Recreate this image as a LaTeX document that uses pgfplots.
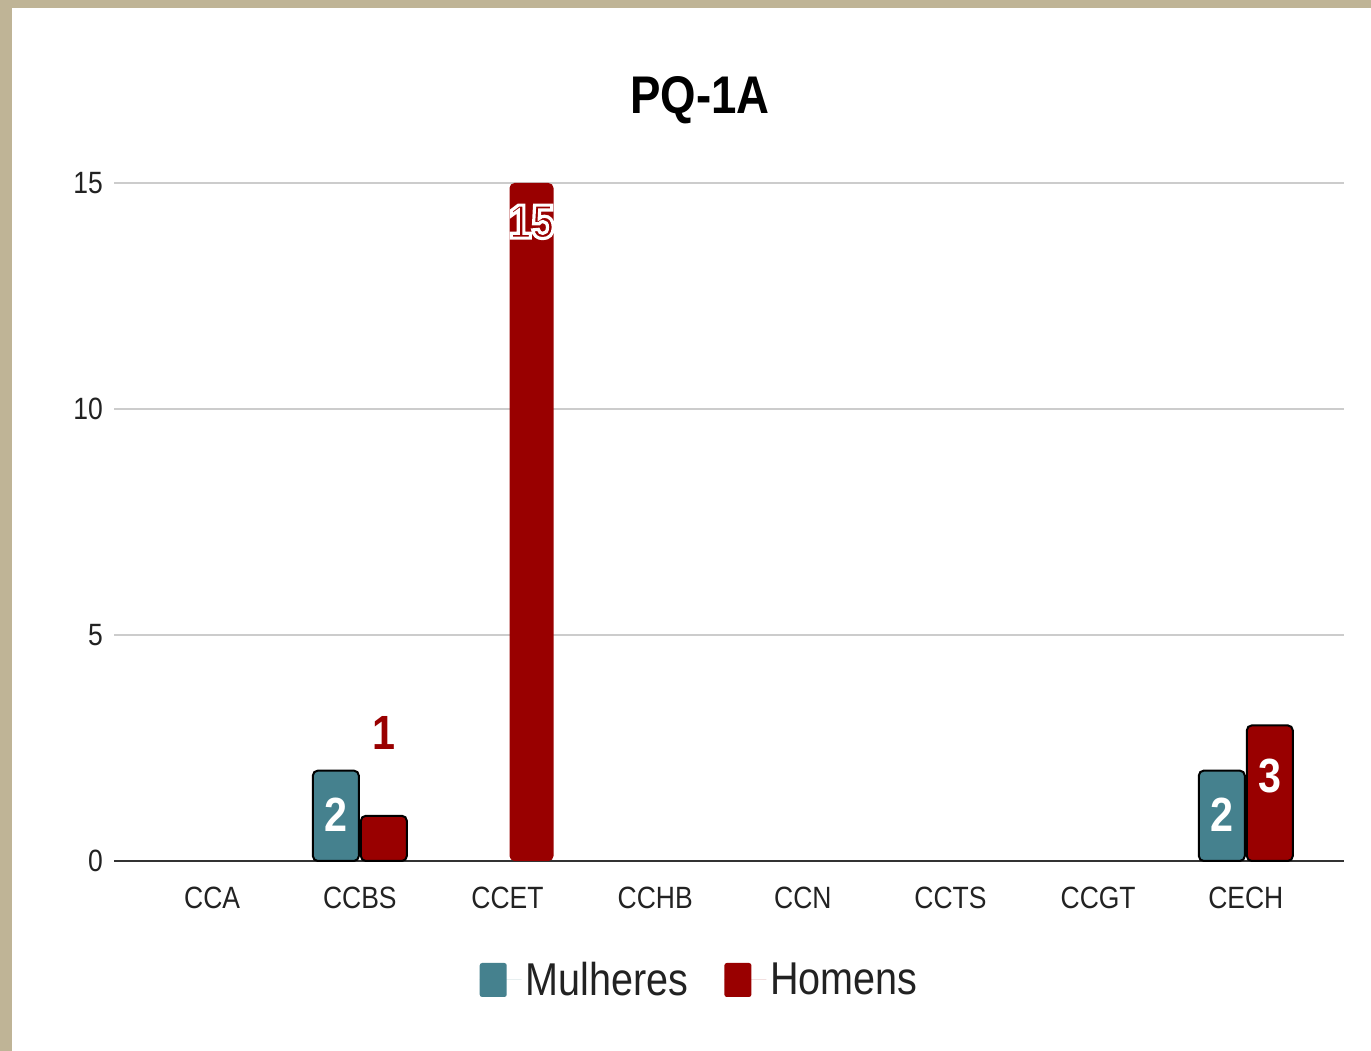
\documentclass[border=0pt]{standalone}
\usepackage{pgfplots}
\pgfplotsset{compat=1.18}
\usepackage{fontspec}
\setmainfont{Liberation Sans}[FakeStretch=0.86]
\definecolor{mulh}{HTML}{45818E}
\definecolor{hom}{HTML}{990000}
\definecolor{beige}{HTML}{BFB496}
\definecolor{gridc}{HTML}{CCCCCC}
\definecolor{axc}{HTML}{333333}
\definecolor{txt}{HTML}{222222}
\newcommand\tickfont{\fontsize{15.4bp}{18bp}\selectfont}
\newcommand\labfont{\fontsize{24bp}{28bp}\selectfont\bfseries}
\begin{document}
\begin{tikzpicture}
\fill[beige] (0,0) rectangle (685.5bp,525.5bp);
\fill[white] (6bp,0) rectangle (685.5bp,521.5bp);
\node[font=\fontsize{26.5bp}{30bp}\selectfont\bfseries, text=black] at (350bp,475.5bp) {PQ-1A};
\begin{axis}[
  at={(57bp,95bp)}, anchor=south west,
  scale only axis, width=615bp, height=339bp,
  xmin=-0.665, xmax=7.665, ymin=0, ymax=15,
  clip=false,
  axis x line=bottom, axis y line=left,
  y axis line style={draw=none},
  x axis line style={color=axc, line width=1bp, -},
  xtick={0,...,7},
  xticklabels={CCA,CCBS,CCET,CCHB,CCN,CCTS,CCGT,CECH},
  ytick={0,5,10,15},
  major tick length=0pt,
  ymajorgrids, grid style={color=gridc, line width=1bp},
  tick label style={font=\tickfont, text=txt},
  /pgf/number format/assume math mode=true,
  xticklabel style={yshift=-9.5bp},
  yticklabel style={xshift=-2bp},
  legend style={at={(0.477,-0.1755)}, anchor=center, draw=none, fill=none,
    font=\fontsize{23bp}{27bp}\selectfont, text=txt, legend columns=2,
    /tikz/every even column/.append style={column sep=16bp},
    legend cell align=left},
  legend image code/.code={\path[draw=none] (0bp,0bp) -- (21bp,0bp);\fill[#1, draw=none, rounded corners=1.2bp] (0bp,-8.5bp) rectangle (13.5bp,8.5bp);},
]
\addplot[ybar, bar width=23bp, bar shift=-12bp, fill=mulh, draw=black, line width=1bp, rounded corners=2.5bp] coordinates {(1,2) (7,2)};
\addlegendentry{Mulheres}
\addplot[ybar, bar width=23bp, bar shift=12bp, fill=hom, draw=black, line width=1bp, rounded corners=2.5bp] coordinates {(1,1) (7,3)};
\addlegendentry{Homens}
\addplot[ybar, bar width=22bp, bar shift=12bp, fill=hom, draw=none, rounded corners=2.5bp, forget plot] coordinates {(2,15)};
\coordinate (l1) at (axis cs:1,1.02);
\coordinate (l2) at (axis cs:1,2.83);
\coordinate (l3) at (axis cs:2,14.14);
\coordinate (l4) at (axis cs:7,1.02);
\coordinate (l5) at (axis cs:7,1.88);
\end{axis}
\node[font=\labfont, text=white, xshift=-12bp] at (l1) {2};
\node[font=\labfont, text=hom, xshift=12bp] at (l2) {1};
\node[font=\labfont, text=hom, xshift=12bp] at (l3) {\special{pdf:literal direct 1 1 1 RG 1.6 w 2 Tr}15\special{pdf:literal direct 0 Tr}};
\node[font=\labfont, text=white, xshift=-12bp] at (l4) {2};
\node[font=\labfont, text=white, xshift=12bp] at (l5) {3};
\end{tikzpicture}
\end{document}
